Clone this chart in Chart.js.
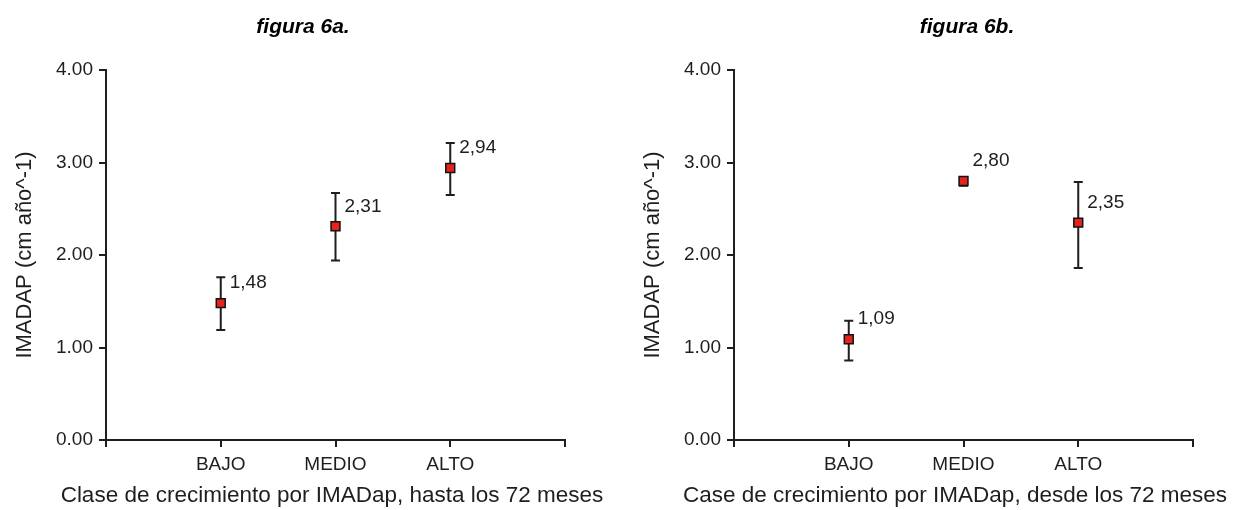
<!DOCTYPE html>
<html>
<head>
<meta charset="utf-8">
<script src="https://cdn.jsdelivr.net/npm/chart.js"></script>
<style>
  body { margin: 0; background: #fff; }
  .panel { position: absolute; top: 0; height: 510px; }
</style>
</head>
<body>
<div class="panel" style="left:0;width:616px"><canvas id="fig6a" width="616" height="510"></canvas></div>
<div class="panel" style="left:628px;width:605px"><canvas id="fig6b" width="605" height="510"></canvas></div>
<script>
const categorias = ["BAJO", "MEDIO", "ALTO"];
const posiciones = [1, 2, 3];

const medias6a = [1.48, 2.31, 2.94];
const inferior6a = [1.19, 1.94, 2.65];
const superior6a = [1.76, 2.67, 3.21];

const medias6b = [1.09, 2.80, 2.35];
const inferior6b = [0.86, 2.75, 1.86];
const superior6b = [1.29, 2.80, 2.79];

const ticksY = [0, 1, 2, 3, 4];

const FUENTE = "'Liberation Sans', Arial, sans-serif";
const OSCURO = "#1e1e1e";

// barras de error + etiquetas de valor, dibujadas con las escalas del grafico
const barrasError = {
    id: "barrasError",
    beforeDatasetsDraw(chart) {
        const {ctx, scales: {x, y}} = chart;
        const ds = chart.data.datasets[0];
        ctx.save();
        ctx.strokeStyle = OSCURO;
        ctx.lineWidth = 2;
        ds.data.forEach((p, i) => {
            const px = x.getPixelForValue(p.x);
            const y1 = y.getPixelForValue(ds.inferior[i]);
            const y2 = y.getPixelForValue(ds.superior[i]);
            ctx.beginPath();
            ctx.moveTo(px, y1); ctx.lineTo(px, y2);
            ctx.moveTo(px - 4.5, y1); ctx.lineTo(px + 4.5, y1);
            ctx.moveTo(px - 4.5, y2); ctx.lineTo(px + 4.5, y2);
            ctx.stroke();
        });
        ctx.restore();
    },
    afterDatasetsDraw(chart) {
        const {ctx, scales: {x, y}} = chart;
        const ds = chart.data.datasets[0];
        ctx.save();
        ctx.fillStyle = OSCURO;
        ctx.font = `19px ${FUENTE}`;
        ctx.textAlign = "left";
        ctx.textBaseline = "middle";
        ds.data.forEach((p) => {
            ctx.fillText(p.y.toFixed(2).replace(".", ","), x.getPixelForValue(p.x) + 9, y.getPixelForValue(p.y) - 20);
        });
        ctx.restore();
    }
};

// titulo de la figura y titulo del eje x (el titulo de escala de Chart.js se comprime al ancho del area)
const textos = {
    id: "textos",
    afterDraw(chart, args, opts) {
        const {ctx} = chart;
        ctx.save();
        ctx.textAlign = "center";
        ctx.textBaseline = "middle";
        ctx.fillStyle = "#000";
        ctx.font = `italic bold 21px ${FUENTE}`;
        ctx.fillText(opts.titulo, opts.tituloPos, 27);
        ctx.fillStyle = OSCURO;
        ctx.font = `22.5px ${FUENTE}`;
        ctx.fillText(opts.ejeX, opts.ejeXPos, 496);
        ctx.restore();
    }
};

const crearGrafico = (id, titulo, tituloPos, ejeX, ejeXPos, medias, inferior, superior, rellenoDer) => {
    const datos = posiciones.map((x, i) => ({x: x, y: medias[i]}));
    return new Chart(document.getElementById(id).getContext("2d"), {
        type: "scatter",
        data: {
            datasets: [{
                data: datos,
                inferior: inferior,
                superior: superior,
                pointStyle: "rect",
                pointRadius: 6.3,
                pointHoverRadius: 6.3,
                backgroundColor: "#e3231c",
                borderColor: "#111",
                borderWidth: 1.5,
            }]
        },
        options: {
            responsive: false,
            animation: false,
            layout: {padding: {top: 70, right: rellenoDer, left: 0, bottom: 0}},
            scales: {
                x: {
                    type: "linear",
                    min: 0,
                    max: 4,
                    afterFit: (s) => { s.height = 70; },
                    afterBuildTicks: (s) => { s.ticks = [0, 1, 2, 3, 4].map(v => ({value: v})); },
                    ticks: {
                        autoSkip: false,
                        maxRotation: 0,
                        padding: 6,
                        color: OSCURO,
                        font: {family: FUENTE, size: 19},
                        callback: (v) => categorias[posiciones.indexOf(v)] ?? "",
                    },
                    grid: {drawOnChartArea: false, drawTicks: true, tickLength: 7, color: OSCURO, lineWidth: 2},
                    border: {display: true, color: OSCURO, width: 2},
                },
                y: {
                    min: 0,
                    max: 4,
                    afterFit: (s) => { s.width = 106; },
                    afterBuildTicks: (s) => { s.ticks = ticksY.map(v => ({value: v})); },
                    ticks: {
                        padding: 6,
                        color: OSCURO,
                        font: {family: FUENTE, size: 19},
                        callback: (v) => v.toFixed(2),
                    },
                    grid: {drawOnChartArea: false, drawTicks: true, tickLength: 7, color: OSCURO, lineWidth: 2},
                    border: {display: true, color: OSCURO, width: 2},
                    title: {
                        display: true,
                        text: "IMADAP (cm año^-1)",
                        color: OSCURO,
                        font: {family: FUENTE, size: 22},
                        padding: {top: 12, bottom: 0},
                    }
                }
            },
            plugins: {
                legend: {display: false},
                tooltip: {enabled: false},
                textos: {titulo: titulo, tituloPos: tituloPos, ejeX: ejeX, ejeXPos: ejeXPos},
            }
        },
        plugins: [barrasError, textos]
    });
};

crearGrafico("fig6a", "figura 6a.", 303, "Clase de crecimiento por IMADap, hasta los 72 meses", 332, medias6a, inferior6a, superior6a, 51);
crearGrafico("fig6b", "figura 6b.", 339, "Case de crecimiento por IMADap, desde los 72 meses", 327, medias6b, inferior6b, superior6b, 40);
</script>
</body>
</html>
